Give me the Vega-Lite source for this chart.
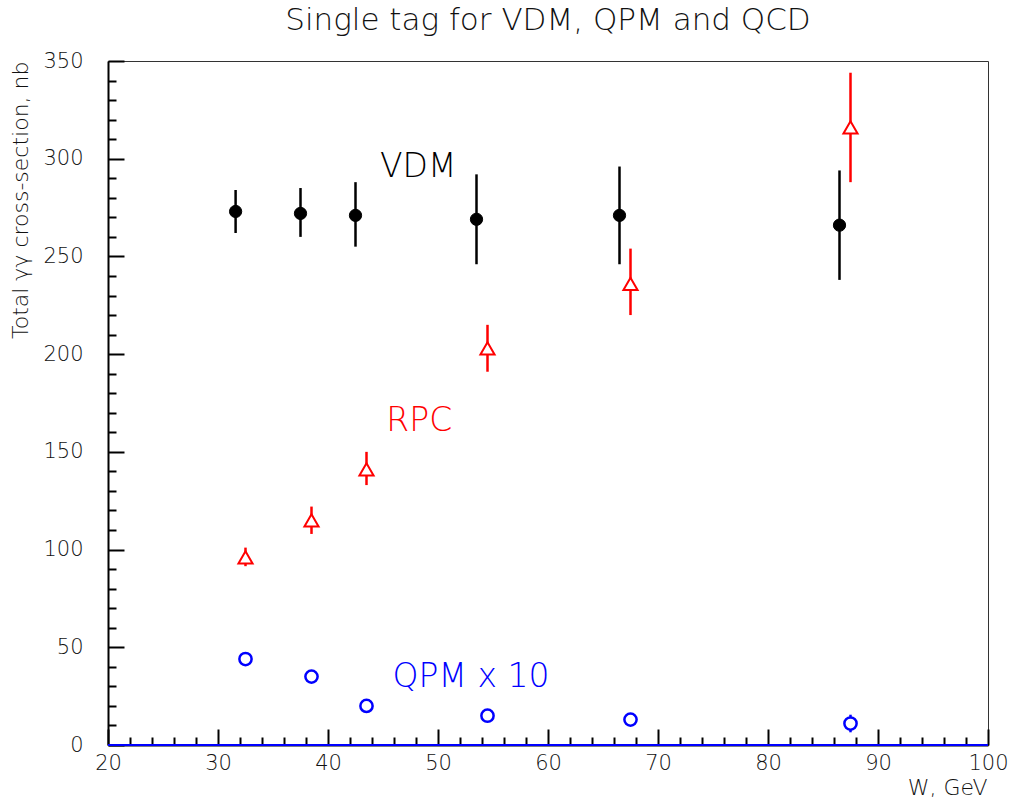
{
  "$schema": "https://vega.github.io/schema/vega-lite/v6.json",
  "width": 880,
  "height": 684,
  "autosize": "none",
  "padding": {"left": 108, "top": 61, "right": 28, "bottom": 58},
  "background": "white",
  "config": {
    "view": {"stroke": "#333333", "strokeWidth": 1},
    "font": "DejaVu Sans"
  },
  "title": {
    "text": "Single tag for VDM, QPM and QCD",
    "fontSize": 31,
    "fontWeight": 200,
    "font": "DejaVu Sans",
    "color": "#111111",
    "offset": 13
  },
  "resolve": {"axis": {"x": "independent", "y": "independent"}},
  "datasets": {
    "points": [
      {"series": "VDM", "W": 31.6, "sigma": 273, "lo": 262, "hi": 284},
      {"series": "VDM", "W": 37.5, "sigma": 272, "lo": 260, "hi": 285},
      {"series": "VDM", "W": 42.5, "sigma": 271, "lo": 255, "hi": 288},
      {"series": "VDM", "W": 53.5, "sigma": 269, "lo": 246, "hi": 292},
      {"series": "VDM", "W": 66.5, "sigma": 271, "lo": 246, "hi": 296},
      {"series": "VDM", "W": 86.5, "sigma": 266, "lo": 238, "hi": 294},
      {"series": "RPC", "W": 32.5, "sigma": 96, "lo": 91.5, "hi": 101},
      {"series": "RPC", "W": 38.5, "sigma": 115, "lo": 108, "hi": 122},
      {"series": "RPC", "W": 43.5, "sigma": 141, "lo": 133, "hi": 150},
      {"series": "RPC", "W": 54.5, "sigma": 203, "lo": 191, "hi": 215},
      {"series": "RPC", "W": 67.5, "sigma": 236, "lo": 220, "hi": 254},
      {"series": "RPC", "W": 87.5, "sigma": 316, "lo": 288, "hi": 344},
      {"series": "QPM", "W": 32.5, "sigma": 44, "lo": 43, "hi": 45},
      {"series": "QPM", "W": 38.5, "sigma": 35, "lo": 34, "hi": 36},
      {"series": "QPM", "W": 43.5, "sigma": 20, "lo": 19, "hi": 21},
      {"series": "QPM", "W": 54.5, "sigma": 15, "lo": 14, "hi": 16},
      {"series": "QPM", "W": 67.5, "sigma": 13, "lo": 12, "hi": 14},
      {"series": "QPM", "W": 87.5, "sigma": 11, "lo": 6.5, "hi": 15.5}
    ],
    "labels": [
      {"series": "VDM", "text": "VDM", "W": 48.2, "sigma": 296},
      {"series": "RPC", "text": "RPC", "W": 48.3, "sigma": 166},
      {"series": "QPM", "text": "QPM x 10", "W": 53.0, "sigma": 35}
    ]
  },
  "layer": [
    {
      "data": {"name": "points"},
      "mark": {"type": "rule", "strokeWidth": 2.5},
      "encoding": {
        "x": {
          "field": "W",
          "type": "quantitative",
          "scale": {"domain": [20, 100], "nice": false, "zero": false},
          "axis": {
            "orient": "bottom",
            "values": [20, 30, 40, 50, 60, 70, 80, 90, 100],
            "labelOverlap": false,
            "labelFlush": false,
            "tickSize": -16,
            "tickColor": "black",
            "tickWidth": 2,
            "domainColor": "black",
            "domainWidth": 2,
            "grid": false,
            "labelFont": "DejaVu Sans",
            "labelFontWeight": 200,
            "labelFontSize": 21,
            "labelColor": "#111111",
            "labelPadding": 23,
            "title": "W, GeV",
            "titleFont": "DejaVu Sans",
            "titleFontWeight": 200,
            "titleFontSize": 22,
            "titleColor": "#111111",
            "titleX": 879,
            "titleY": 42,
            "titleAlign": "right",
            "titleBaseline": "middle"
          }
        },
        "y": {
          "field": "lo",
          "type": "quantitative",
          "scale": {"domain": [0, 350], "nice": false, "zero": true},
          "axis": {
            "orient": "left",
            "values": [0, 50, 100, 150, 200, 250, 300, 350],
            "labelOverlap": false,
            "labelFlush": false,
            "tickSize": -16,
            "tickColor": "black",
            "tickWidth": 2,
            "domainColor": "black",
            "domainWidth": 2,
            "grid": false,
            "labelFont": "DejaVu Sans",
            "labelFontWeight": 200,
            "labelFontSize": 21,
            "labelColor": "#111111",
            "labelPadding": 41,
            "title": "Total γγ cross-section, nb",
            "titleFont": "DejaVu Sans",
            "titleFontWeight": 200,
            "titleFontSize": 22,
            "titleColor": "#111111",
            "titleAngle": -90,
            "titleX": -88,
            "titleY": 0,
            "titleAlign": "right",
            "titleBaseline": "middle"
          }
        },
        "y2": {"field": "hi"},
        "color": {
          "field": "series",
          "type": "nominal",
          "scale": {"domain": ["VDM", "RPC", "QPM"], "range": ["#000000", "#ff0000", "#0000ff"]},
          "legend": null
        }
      }
    },
    {
      "data": {"values": [{"level": 0}]},
      "mark": {"type": "rule", "color": "#0000ff", "strokeWidth": 2},
      "encoding": {"y": {"field": "level", "type": "quantitative", "axis": null}}
    },
    {
      "data": {"name": "points"},
      "transform": [{"filter": "datum.series === 'VDM'"}],
      "mark": {"type": "point", "shape": "circle", "filled": true, "fill": "#000000", "stroke": "#000000", "strokeWidth": 1, "size": 150, "opacity": 1},
      "encoding": {
        "x": {
          "field": "W",
          "type": "quantitative",
          "axis": {
            "orient": "bottom",
            "values": [22,24,26,28,32,34,36,38,42,44,46,48,52,54,56,58,62,64,66,68,72,74,76,78,82,84,86,88,92,94,96,98],
            "labels": false,
            "domain": false,
            "grid": false,
            "tickSize": -8,
            "tickColor": "black",
            "tickWidth": 2,
            "title": null
          }
        },
        "y": {
          "field": "sigma",
          "type": "quantitative",
          "axis": {
            "orient": "left",
            "values": [10,20,30,40,60,70,80,90,110,120,130,140,160,170,180,190,210,220,230,240,260,270,280,290,310,320,330,340],
            "labels": false,
            "domain": false,
            "grid": false,
            "tickSize": -8,
            "tickColor": "black",
            "tickWidth": 2,
            "title": null
          }
        }
      }
    },
    {
      "data": {"name": "points"},
      "transform": [{"filter": "datum.series === 'RPC'"}],
      "mark": {"type": "point", "shape": "triangle-up", "filled": true, "fill": "#ffffff", "stroke": "#ff0000", "strokeWidth": 2, "size": 200, "opacity": 1},
      "encoding": {
        "x": {"field": "W", "type": "quantitative", "axis": null},
        "y": {"field": "sigma", "type": "quantitative", "axis": null}
      }
    },
    {
      "data": {"name": "points"},
      "transform": [{"filter": "datum.series === 'QPM'"}],
      "mark": {"type": "point", "shape": "circle", "filled": true, "fill": "#ffffff", "stroke": "#0000ff", "strokeWidth": 2.5, "size": 150, "opacity": 1},
      "encoding": {
        "x": {"field": "W", "type": "quantitative", "axis": null},
        "y": {"field": "sigma", "type": "quantitative", "axis": null}
      }
    },
    {
      "data": {"name": "labels"},
      "mark": {"type": "text", "font": "DejaVu Sans", "fontWeight": 200, "fontSize": 33, "align": "center", "baseline": "middle"},
      "encoding": {
        "x": {"field": "W", "type": "quantitative", "axis": null},
        "y": {"field": "sigma", "type": "quantitative", "axis": null},
        "text": {"field": "text", "type": "nominal"},
        "color": {"field": "series", "type": "nominal"}
      }
    }
  ]
}
